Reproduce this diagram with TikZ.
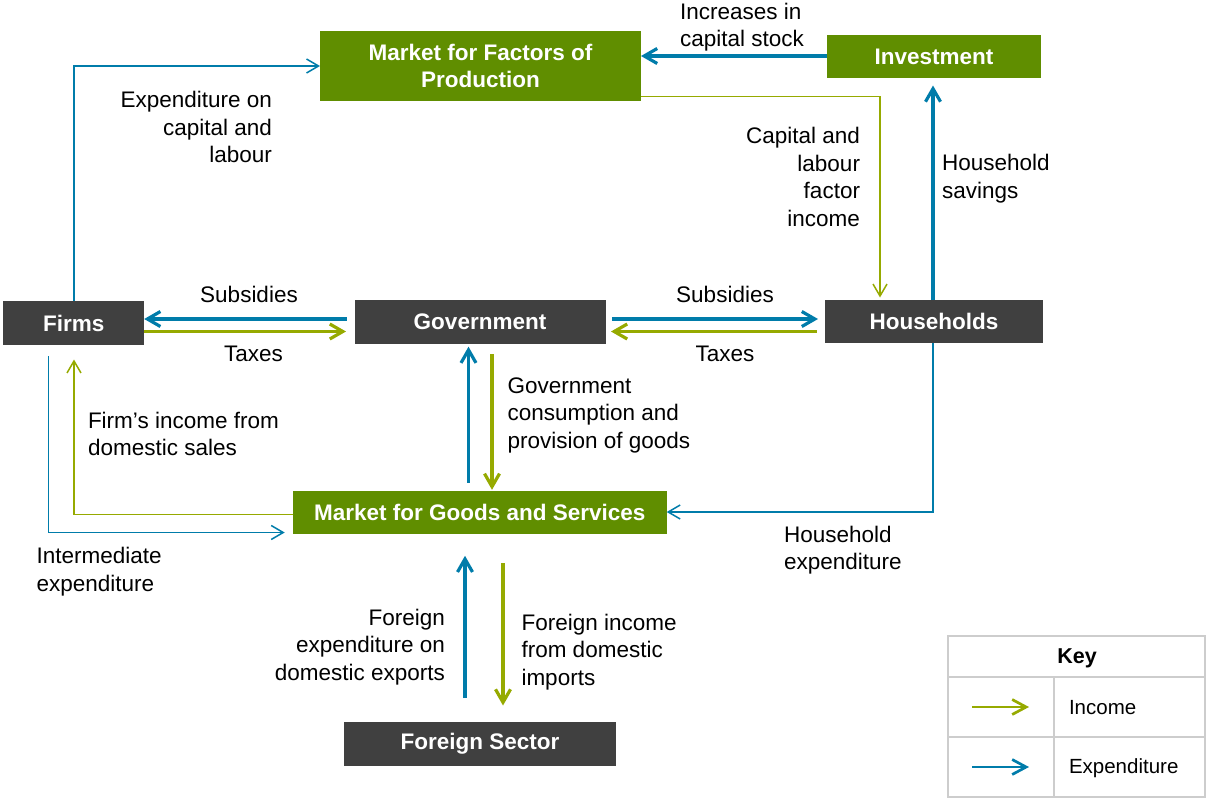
\documentclass[tikz,border=0pt]{standalone}
\usepackage{fontspec}
\setmainfont{Liberation Sans}
\usetikzlibrary{arrows.meta}
\definecolor{boxgreen}{RGB}{96,142,0}
\definecolor{boxgray}{RGB}{64,64,64}
\definecolor{flowblue}{RGB}{0,124,170}
\definecolor{flowolive}{RGB}{150,170,0}
\definecolor{keygray}{RGB}{205,205,205}
\tikzset{
  gbox/.style={fill=boxgreen, text=white, font=\bfseries\fontsize{22.5}{27}\selectfont, align=center, inner sep=0pt, outer sep=0pt},
  dbox/.style={fill=boxgray, text=white, font=\bfseries\fontsize{22.5}{27}\selectfont, align=center, inner sep=0pt, outer sep=0pt},
  lbl/.style={font=\fontsize{22.5}{27.5}\selectfont, text=black, inner sep=0pt, outer sep=0pt},
  keytxt/.style={font=\fontsize{20.5}{24}\selectfont, text=black, inner sep=0pt, outer sep=0pt},
  thickblue/.style={draw=flowblue, line width=3.2pt, -{Straight Barb[length=13pt,width=15pt]}},
  thickolive/.style={draw=flowolive, line width=3.2pt, -{Straight Barb[length=13pt,width=15pt]}},
  thinblue/.style={draw=flowblue, line width=1.5pt, -{Straight Barb[length=12pt,width=14pt]}},
  thinolive/.style={draw=flowolive, line width=1.5pt, -{Straight Barb[length=12pt,width=14pt]}},
  keyblue/.style={draw=flowblue, line width=2.7pt, -{Straight Barb[length=14pt,width=15pt]}},
  keyolive/.style={draw=flowolive, line width=2.7pt, -{Straight Barb[length=14pt,width=15pt]}},
  keyline/.style={draw=keygray, line width=1.7pt}
}
\begin{document}
\begin{tikzpicture}[x=1pt,y=-1pt]
\useasboundingbox (0,0) rectangle (1206,798);

% boxes
\node[gbox, minimum width=321pt, minimum height=70pt] (mfp) at (480.5,66) {Market for Factors of\\Production};
\node[gbox, minimum width=214pt, minimum height=43pt] (inv) at (934,56.5) {Investment};
\node[dbox, minimum width=141pt, minimum height=44pt] (firms) at (73.7,323) {Firms};
\node[dbox, minimum width=251pt, minimum height=44pt] (gov) at (480,322) {Government};
\node[dbox, minimum width=218pt, minimum height=43pt] (hh) at (934,321.5) {Households};
\node[gbox, minimum width=374pt, minimum height=43pt] (mgs) at (479.7,512.3) {Market for Goods and Services};
\node[dbox, minimum width=272pt, minimum height=44pt] (fs) at (480,744) {Foreign Sector};

% labels
\node[lbl, anchor=west, align=left] (lincr) at (680,27) {Increases in\\capital stock};
\node[lbl, anchor=east, align=right] (lexpcl) at (272,127) {Expenditure on\\capital and\\labour};
\node[lbl, anchor=east, align=right] (lcapinc) at (860,177) {Capital and\\labour\\factor\\income};
\node[lbl, anchor=west, align=left] (lhhsav) at (942,178.5) {Household\\savings};
\node[lbl] (lsub1) at (249,294) {Subsidies};
\node[lbl] (ltax1) at (253.5,354) {Taxes};
\node[lbl] (lsub2) at (725,294) {Subsidies};
\node[lbl] (ltax2) at (725,354) {Taxes};
\node[lbl, anchor=west, align=left] (lgov) at (507.5,415) {Government\\consumption and\\provision of goods};
\node[lbl, anchor=west, align=left] (lfirm) at (88,434) {Firm’s income from\\domestic sales};
\node[lbl, anchor=west, align=left] (linterm) at (36.5,571.5) {Intermediate\\expenditure};
\node[lbl, anchor=west, align=left] (lhhexp) at (784,550) {Household\\expenditure};
\node[lbl, anchor=east, align=right] (lforexp) at (445,647) {Foreign\\expenditure on\\domestic exports};
\node[lbl, anchor=west, align=left] (lforinc) at (521.5,652) {Foreign income\\from domestic\\imports};

% helper coordinates
\coordinate (ya) at (0,319);
\coordinate (yb) at (0,331.5);
\coordinate (xa) at (468.5,0);
\coordinate (xb) at (492,0);
\coordinate (xc) at (465,0);
\coordinate (xd) at (503,0);
\coordinate (xe) at (933,0);
\coordinate (yi) at (0,56);
\coordinate (c1) at (74,66);
\coordinate (c2) at (880,96.5);
\coordinate (c3) at (933,512);
\coordinate (c4) at (74,514.5);
\coordinate (c5) at (48.5,532.5);

% thick flows
\draw[thickblue, shorten <=8pt] (gov.west |- ya) -- (firms.east |- ya);
\draw[thickolive, shorten >=8.5pt] (firms.east |- yb) -- (gov.west |- yb);
\draw[thickblue, shorten <=6.5pt, shorten >=7pt] (gov.east |- ya) -- (hh.west |- ya);
\draw[thickolive, shorten <=8.5pt, shorten >=5.5pt] (hh.west |- yb) -- (gov.east |- yb);
\draw[thickblue, shorten <=8pt, shorten >=2.7pt] (mgs.north -| xa) -- (gov.south -| xa);
\draw[thickolive, shorten <=10pt, shorten >=1pt] (gov.south -| xb) -- (mgs.north -| xb);
\draw[thickblue, shorten <=24pt, shorten >=22pt] (fs.north -| xc) -- (mgs.south -| xc);
\draw[thickolive, shorten <=29.5pt, shorten >=16.5pt] (mgs.south -| xd) -- (fs.north -| xd);
\draw[thickblue, shorten >=7.5pt] (hh.north -| xe) -- (inv.south -| xe);
\draw[thickblue] (inv.west |- yi) -- (mfp.east |- yi);

% thin flows
\draw[thinblue] (firms.north -| c1) -- (c1) -- (mfp.west |- c1);
\draw[thinolive, shorten >=2.5pt] (mfp.east |- c2) -- (c2) -- (hh.north -| c2);
\draw[thinblue] (hh.south -| c3) -- (c3) -- (mgs.east |- c3);
\draw[thinolive, shorten >=14.5pt] (mgs.west |- c4) -- (c4) -- (firms.south -| c4);
\draw[thinblue, shorten <=11pt, shorten >=8pt] (firms.south -| c5) -- (c5) -- (mgs.west |- c5);

% key
\coordinate (kt1) at (948,636);
\coordinate (kt2) at (1205,797);
\draw[keyline] (kt1) rectangle (kt2);
\coordinate (kh1) at (948,677);
\coordinate (kh2) at (1205,677);
\coordinate (kh3) at (948,737);
\coordinate (kh4) at (1205,737);
\coordinate (kv1) at (1054,677);
\coordinate (kv2) at (1054,797);
\draw[keyline] (kh1) -- (kh2);
\draw[keyline] (kh3) -- (kh4);
\draw[keyline] (kv1) -- (kv2);
\node[keytxt, font=\bfseries\fontsize{21.5}{24}\selectfont] (keyt) at (1077,658) {Key};
\node[keytxt, anchor=west] (kinc) at (1069,708) {Income};
\node[keytxt, anchor=west] (kexp) at (1069,768) {Expenditure};
\coordinate (ka1) at (972,707);
\coordinate (ka2) at (1029,707);
\coordinate (kb1) at (972,767);
\coordinate (kb2) at (1029,767);
\draw[keyolive] (ka1) -- (ka2);
\draw[keyblue] (kb1) -- (kb2);
\end{tikzpicture}
\end{document}
